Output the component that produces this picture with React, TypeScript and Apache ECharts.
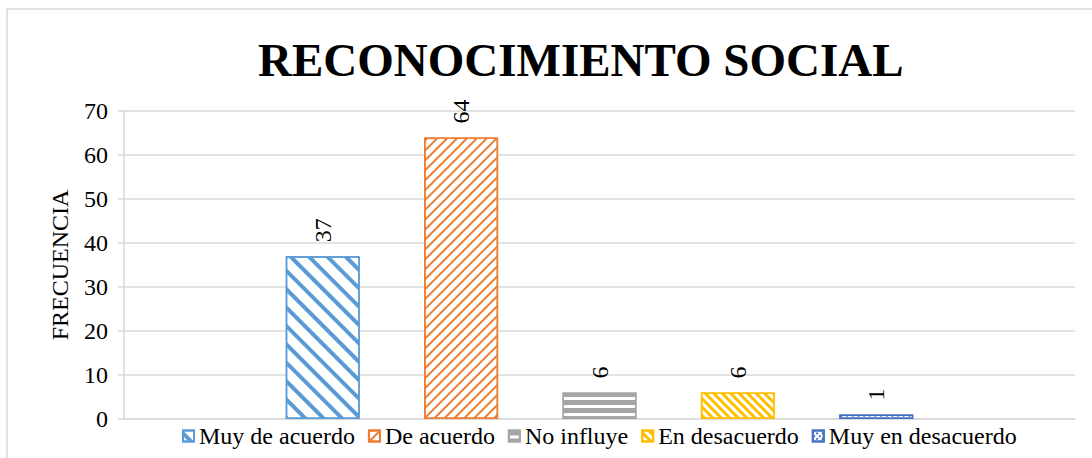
import React, { useEffect, useRef } from "react";
import * as echarts from "echarts";

const categories = [""];
const seriesNames = ["Muy de acuerdo", "De acuerdo", "No influye", "En desacuerdo", "Muy en desacuerdo"];
const seriesValues = [37, 64, 6, 6, 1];
const seriesColors = ["#5B9BD5", "#ED7D31", "#A5A5A5", "#FFC000", "#4472C4"];
const yTicks = [0, 10, 20, 30, 40, 50, 60, 70];

const decals = [
  { symbol: "rect", symbolSize: 1, dashArrayX: [[1, 0]], dashArrayY: [4, 9], rotation: Math.PI / 4 },
  { symbol: "rect", symbolSize: 1, dashArrayX: [[1, 0]], dashArrayY: [2, 5], rotation: -Math.PI / 4 },
  { symbol: "rect", symbolSize: 1, dashArrayX: [[1, 0]], dashArrayY: [5, 3], rotation: 0 },
  { symbol: "rect", symbolSize: 1, dashArrayX: [[1, 0]], dashArrayY: [2.5, 2.5], rotation: Math.PI / 4 },
  { symbol: "rect", symbolSize: 1, dashArrayX: [[2, 2]], dashArrayY: [2, 2], rotation: -Math.PI / 4 },
];

const FONT = "'Liberation Serif', 'Times New Roman', serif";

export default function App() {
  const ref = useRef<HTMLDivElement>(null);
  useEffect(() => {
    if (!ref.current) return;
    const chart = echarts.init(ref.current, null, { renderer: "svg" });
    chart.setOption({
      animation: false,
      backgroundColor: "#fff",
      textStyle: { fontFamily: FONT },
      title: {
        text: "RECONOCIMIENTO SOCIAL",
        left: 258,
        top: 36,
        padding: 0,
        textStyle: { fontFamily: FONT, fontSize: 47, fontWeight: "bold", fontStyle: "normal", color: "#000" },
      },
      graphic: [
        {
          type: "rect",
          shape: { x: 7, y: 9, width: 1200, height: 600 },
          style: { fill: "none", stroke: "#D9D9D9", lineWidth: 1.5 },
          silent: true,
        },
      ],
      legend: {
        data: seriesNames,
        top: 424,
        left: 182,
        padding: 0,
        itemWidth: 11,
        itemHeight: 11,
        itemGap: 13,
        icon: "rect",
        textStyle: { fontFamily: FONT, fontSize: 24, fontWeight: "normal", fontStyle: "normal", color: "#000" },
      },
      grid: { left: 124, right: 17, top: 111, bottom: 39 },
      xAxis: {
        type: "category",
        data: categories,
        axisLine: { show: true, lineStyle: { color: "#D9D9D9", width: 1.5 } },
        axisTick: { show: false },
        axisLabel: { show: false },
      },
      yAxis: {
        type: "value",
        min: yTicks[0],
        max: yTicks[yTicks.length - 1],
        interval: 10,
        name: "FRECUENCIA",
        nameLocation: "middle",
        nameGap: 52,
        nameTextStyle: { fontFamily: FONT, fontSize: 24, color: "#000" },
        axisLine: { show: true, lineStyle: { color: "#D9D9D9", width: 1.5 } },
        axisTick: { show: true, length: 6, lineStyle: { color: "#D9D9D9", width: 1.5 } },
        axisLabel: { fontFamily: FONT, fontSize: 24, color: "#000", margin: 16 },
        splitLine: { show: true, lineStyle: { color: "#D9D9D9", width: 1.5 } },
      },
      series: seriesNames.map((name, i) => ({
        name,
        type: "bar",
        data: [seriesValues[i]],
        barWidth: 74,
        barGap: "87%",
        itemStyle: {
          color: "#fff",
          borderColor: seriesColors[i],
          borderWidth: 1.5,
          decal: { ...decals[i], color: seriesColors[i] },
        },
        label: {
          show: true,
          position: "top",
          rotate: 90,
          align: "left",
          verticalAlign: "middle",
          distance: 14,
          fontFamily: FONT,
          fontSize: 24,
          fontWeight: "normal",
          fontStyle: "normal",
          color: "#000",
        },
      })),
    });
    return () => chart.dispose();
  }, []);
  return (
    <div
      ref={ref}
      style={{ position: "absolute", left: 0, top: 0, width: 1092, height: 458, background: "#fff" }}
    />
  );
}
